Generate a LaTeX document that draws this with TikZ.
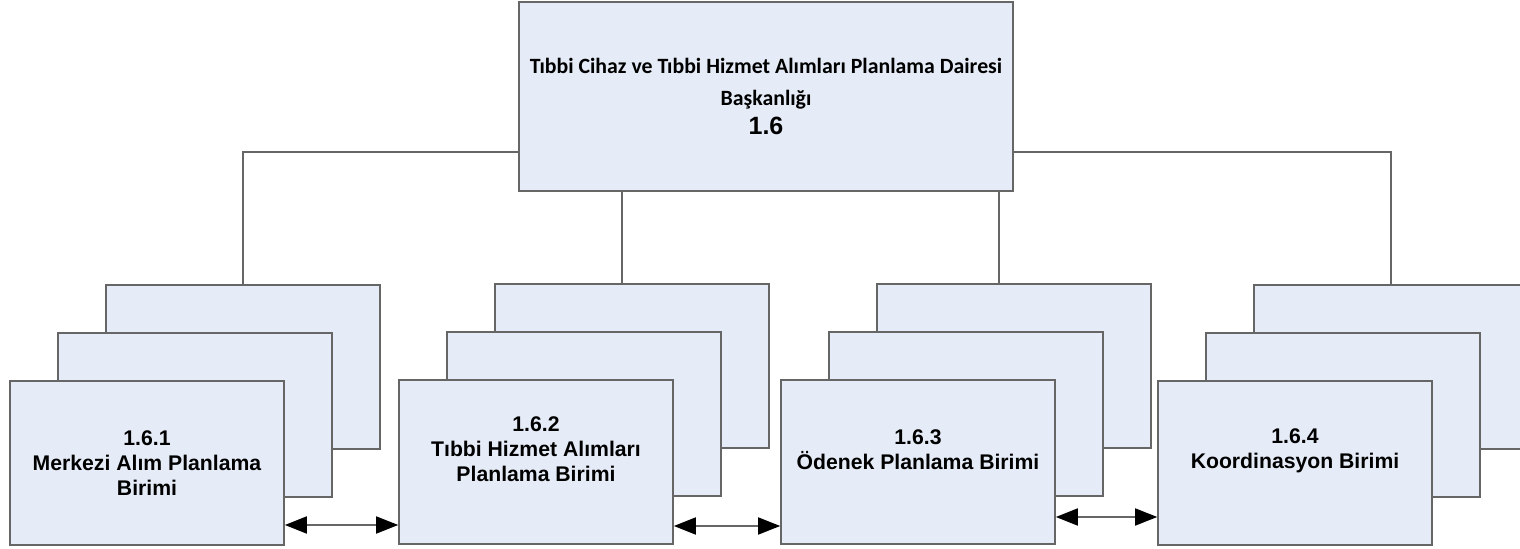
\documentclass[tikz,border=0pt]{standalone}
\usepackage{fontspec}
\setmainfont{Liberation Sans}
\newfontfamily\titlefont{Carlito}
\usetikzlibrary{arrows.meta, positioning}
\definecolor{boxfill}{HTML}{E6ECF7}
\definecolor{boxedge}{HTML}{666666}
\tikzstyle{headbox} = [draw=boxedge, line width=0.8pt, fill=boxfill, rectangle, minimum width=247pt, minimum height=94.5pt, align=center, font=\titlefont\bfseries\fontsize{10.9}{16}\selectfont]
\tikzstyle{unitbox} = [draw=boxedge, line width=0.8pt, fill=boxfill, rectangle, minimum width=137pt, minimum height=82pt]
\tikzstyle{unittext} = [align=center, font=\bfseries\fontsize{10.6}{12.5}\selectfont]
\tikzstyle{tree} = [draw=boxedge, line width=0.7pt]
\tikzstyle{link} = [draw=boxedge, line width=0.9pt, {Triangle[length=11pt, width=8.5pt, color=black]}-{Triangle[length=11pt, width=8.5pt, color=black]}]

\begin{document}
\begin{tikzpicture}[x=0.5pt, y=-0.5pt]
  \clip (0,0) rectangle (1520,549);
  % Head office
  \node (Top) [headbox] at (766,96.5) {Tıbbi Cihaz ve Tıbbi Hizmet Alımları Planlama Dairesi\\ Başkanlığı\\[-1.5pt] {\normalfont\bfseries\fontsize{12.5}{14}\selectfont 1.6}};

  % Units (stacked sheets, back to front)
  \node (U1c) [unitbox] at (243,367) {};
  \node (U1b) [unitbox, xshift=-24pt, yshift=-24pt] at (U1c) {};
  \node (U1) [unitbox, xshift=-24pt, yshift=-24pt, label={[unittext]center:{1.6.1\\Merkezi Alım Planlama\\Birimi}}] at (U1b) {};

  \node (U2c) [unitbox] at (632,366) {};
  \node (U2b) [unitbox, xshift=-24pt, yshift=-24pt] at (U2c) {};
  \node (U2) [unitbox, xshift=-24pt, yshift=-24pt, label={[unittext, yshift=6.5pt]center:{1.6.2\\Tıbbi Hizmet Alımları\\Planlama Birimi}}] at (U2b) {};

  \node (U3c) [unitbox] at (1014,366) {};
  \node (U3b) [unitbox, xshift=-24pt, yshift=-24pt] at (U3c) {};
  \node (U3) [unitbox, xshift=-24pt, yshift=-24pt, label={[unittext, yshift=6pt]center:{1.6.3\\Ödenek Planlama Birimi}}] at (U3b) {};

  \node (U4c) [unitbox] at (1391,367) {};
  \node (U4b) [unitbox, xshift=-24pt, yshift=-24pt] at (U4c) {};
  \node (U4) [unitbox, xshift=-24pt, yshift=-24pt, label={[unittext, yshift=6pt]center:{1.6.4\\Koordinasyon Birimi}}] at (U4b) {};

  % Tree lines
  \draw [tree] ([yshift=-27.75pt]Top.west) -| (U1c.north);
  \draw [tree] ([xshift=-72pt]Top.south) -- ([xshift=-72pt]Top.south |- U2c.north);
  \draw [tree] ([xshift=116.5pt]Top.south) -- ([xshift=116.5pt]Top.south |- U3c.north);
  \draw [tree] ([yshift=-27.75pt]Top.east) -| (U4c.north);

  % Links between units
  \draw [link] ([yshift=-31pt]U1.east) -- ([yshift=-31pt]U1.east -| U2.west);
  \draw [link] ([yshift=-32pt]U2.east) -- ([yshift=-32pt]U2.east -| U3.west);
  \draw [link] ([yshift=-27.5pt]U3.east) -- ([yshift=-27.5pt]U3.east -| U4.west);
\end{tikzpicture}
\end{document}
